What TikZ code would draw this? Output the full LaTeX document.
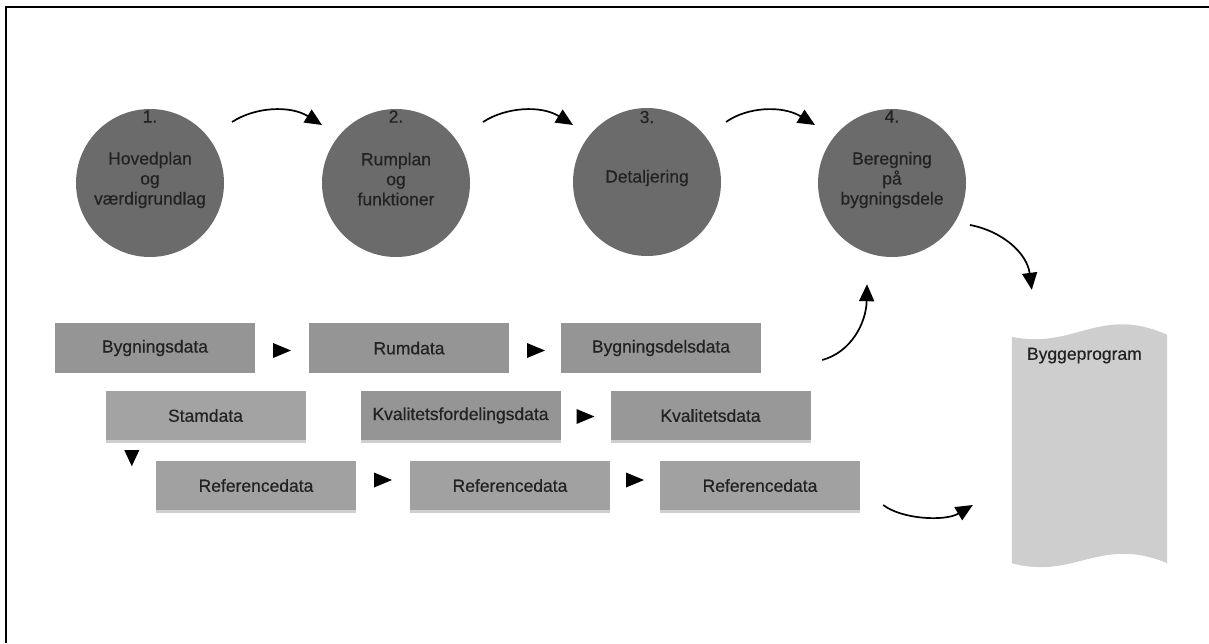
\documentclass[tikz,border=0pt]{standalone}
\usepackage{fontspec}
\setmainfont{Liberation Sans}
\newfontfamily\diagfont{Liberation Sans}[FakeBold=0.5]
\usetikzlibrary{arrows.meta,calc,shadows}
\definecolor{circfill}{HTML}{6B6B6B}
\definecolor{boxA}{HTML}{959595}
\definecolor{boxB}{HTML}{A3A3A3}
\definecolor{boxC}{HTML}{989898}
\definecolor{boxR}{HTML}{A1A1A1}
\definecolor{shadowc}{HTML}{CFCFCF}
\definecolor{docfill}{HTML}{CECECE}
\definecolor{txt}{HTML}{222222}
\begin{document}
\begin{tikzpicture}[x=1pt,y=-1pt,
  every node/.style={font=\diagfont\fontsize{17.5}{20}\selectfont, text=txt},
  circ/.style={circle, fill=circfill, minimum size=148pt, inner sep=0pt},
  ctext/.style={align=center, inner sep=0pt},
  databox/.style={rectangle, minimum width=200pt, minimum height=50pt, inner sep=0pt},
  shadowbox/.style={databox, minimum height=49pt, drop shadow={shadow xshift=0pt, shadow yshift=-3pt, fill=shadowc, opacity=1}},
  flow/.style={line width=1.7pt, -{Triangle[length=17pt,width=15pt]}},
  pics/rtri/.style={code={\fill[black] (-9,-7.5) -- (9,0) -- (-9,7.5) -- cycle;}},
  pics/dtri/.style={code={\fill[black] (-7.5,-8) -- (7.5,-8) -- (0,8) -- cycle;}}
]
\useasboundingbox (0,0) rectangle (1209,643);
% frame
\draw[line width=2pt] (6,643) -- (6,7) -- (1209,7);

% circles
\node[circ] (c1) at (150,183) {};
\node[circ] (c2) at (396,183) {};
\node[circ] (c3) at (647,182) {};
\node[circ] (c4) at (892,183) {};
\node[ctext] (n1) at ($(c1)+(0,-66.5)$) {1.};
\node[ctext] (n2) at ($(c2)+(0,-66.5)$) {2.};
\node[ctext] (n3) at ($(c3)+(0,-65)$) {3.};
\node[ctext] (n4) at ($(c4)+(0,-66.5)$) {4.};
\node[ctext] (t1) at ($(c1)+(0,-3)$) {Hovedplan\\og\\værdigrundlag};
\node[ctext] (t2) at ($(c2)+(0,-4)$) {Rumplan\\og\\funktioner};
\node[ctext] (t3) at ($(c3)+(0,-4)$) {Detaljering};
\node[ctext] (t4) at ($(c4)+(0,-3)$) {Beregning\\på\\bygningsdele};

% data boxes
\node[databox, fill=boxA] (byg) at (155,348) {Bygningsdata};
\node[databox, fill=boxA] (rum) at (409,348) {Rumdata};
\node[databox, fill=boxA] (bdd) at (661,348) {Bygningsdelsdata};
\node[shadowbox, fill=boxB] (stam) at (205.5,415.5) {Stamdata};
\node[shadowbox, fill=boxA] (kfd) at (460.5,415.5) {Kvalitetsfordelingsdata};
\node[shadowbox, fill=boxC] (kd) at (710.5,415.5) {Kvalitetsdata};
\node[shadowbox, fill=boxR] (ref1) at (256,485.5) {Referencedata};
\node[shadowbox, fill=boxR] (ref2) at (510,485.5) {Referencedata};
\node[shadowbox, fill=boxR] (ref3) at (760,485.5) {Referencedata};

% small arrowheads between boxes
\pic at ($(byg.east)!0.5!(rum.west)+(0,2.5)$) {rtri};
\pic at ($(rum.east)!0.5!(bdd.west)+(1,2.5)$) {rtri};
\pic at ($(kfd.east)!0.5!(kd.west)+(0,1)$) {rtri};
\pic at ($(ref1.east)!0.5!(ref2.west)+(0,-5.5)$) {rtri};
\pic at ($(ref2.east)!0.5!(ref3.west)+(0,-5.5)$) {rtri};
\pic at ($(stam.south west)+(26.5,18)$) {dtri};

% document
\node[rectangle, minimum width=155pt, minimum height=226pt, inner sep=0pt] (doc) at (1089.5,450) {};
\fill[docfill] (doc.north west) .. controls ($(doc.north west)+(63,13)$) and ($(doc.north east)+(-67,-32)$) .. ($(doc.north east)+(0,-2)$)
  -- (doc.south east) .. controls ($(doc.south east)+(-67,-28)$) and ($(doc.south west)+(63,17)$) .. (doc.south west) -- cycle;
\node[anchor=base west, inner sep=0pt] (dtxt) at ($(doc.north west)+(15,23)$) {Byggeprogram};

% curved arrows
\draw[flow] ($(c1)+(82,-61)$) .. controls ($(c1)+(105,-76)$) and ($(c1)+(140,-78)$) .. ($(c2)+(-74,-58)$);
\draw[flow] ($(c2)+(87,-61)$) .. controls ($(c2)+(110,-76)$) and ($(c2)+(145,-78)$) .. ($(c3)+(-74,-57)$);
\draw[flow] ($(c3)+(79,-60)$) .. controls ($(c3)+(100,-75)$) and ($(c3)+(135,-77)$) .. ($(c4)+(-77,-58)$);
\draw[flow] ($(c4)+(78,42)$) .. controls ($(c4)+(110,48)$) and ($(c4)+(135,70)$) .. ($(doc.north west)+(20,-47)$);
\draw[flow] ($(bdd.east)+(61,12)$) .. controls ($(bdd.east)+(90,4)$) and ($(bdd.east)+(105,-25)$) .. ($(c4.south)+(-25,27)$);
\draw[flow] ($(ref3.east)+(23,19.5)$) .. controls ($(ref3.east)+(42,34)$) and ($(ref3.east)+(85,36)$) .. ($(doc.west)+(-39,55)$);
\end{tikzpicture}
\end{document}
